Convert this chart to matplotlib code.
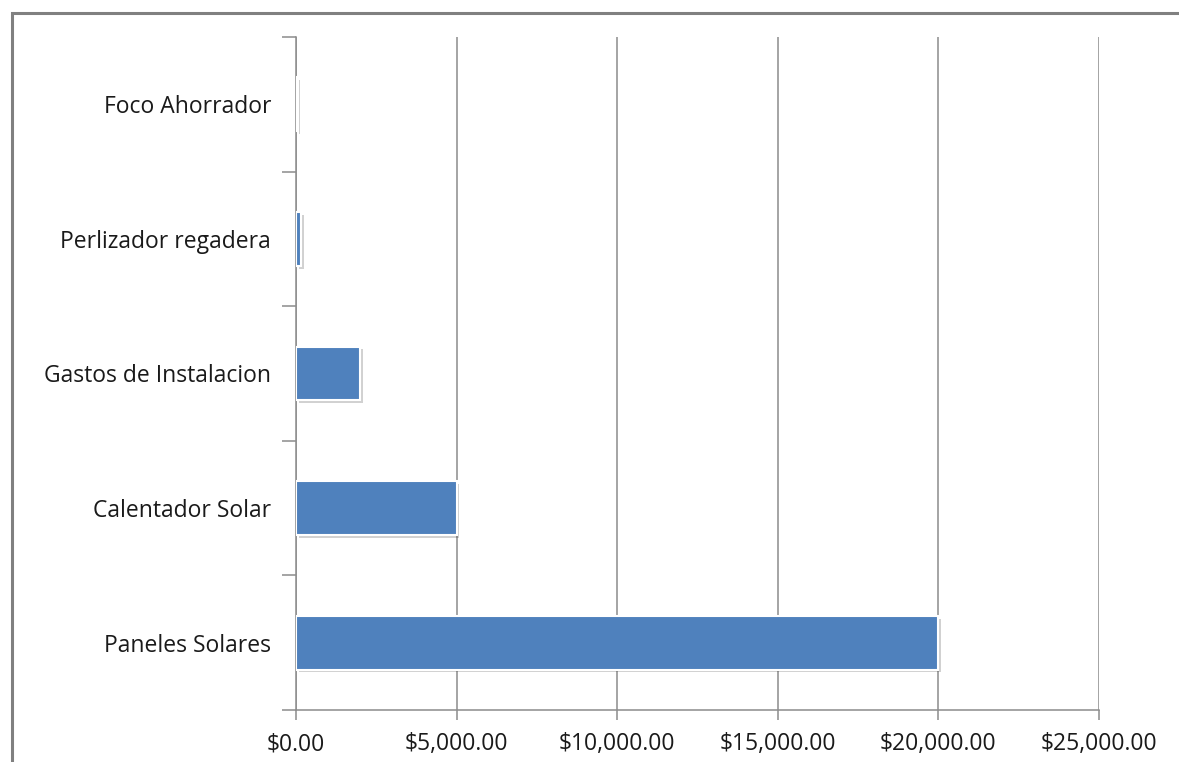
import matplotlib
matplotlib.use('Agg')
import matplotlib.pyplot as plt
import matplotlib.patheffects as pe
from matplotlib.ticker import FuncFormatter
from matplotlib.patches import Rectangle

# Costs per item (pesos)
categorias = ['Paneles Solares', 'Calentador Solar', 'Gastos de Instalacion',
              'Perlizador regadera', 'Foco Ahorrador']
costos = [20000, 5000, 2000, 150, 40]

plt.rcParams['font.family'] = ['Open Sans', 'DejaVu Sans']

fig = plt.figure(figsize=(11.79, 7.62), dpi=100)
ax = fig.add_axes([296 / 1179, 1 - 710 / 762, (1099 - 296) / 1179, (710 - 37) / 762])

# outer chart border (only top and left edges fall inside the image)
fig.patches.append(Rectangle((12 / 1179, -0.1), 1.2, 1 - 13 / 762 + 0.1,
                             transform=fig.transFigure, fill=False,
                             edgecolor='#808080', linewidth=2.2, zorder=0))

pos = range(len(categorias))
bars = ax.barh(pos, costos, height=0.4, color='#4F81BD', edgecolor='white',
               linewidth=1.5, zorder=3)
for b in bars:
    b.set_path_effects([pe.SimplePatchShadow(offset=(2, -2), shadow_rgbFace='#000000', alpha=0.18),
                        pe.Normal()])

ax.set_xlim(0, 25000)
ax.set_ylim(-0.5, len(categorias) - 0.5)
ax.set_xticks(range(0, 25001, 5000))
ax.xaxis.set_major_formatter(FuncFormatter(lambda v, p: f'${v:,.2f}'))
ax.set_yticks(list(pos))
ax.set_yticklabels(categorias)
ax.set_yticks([i - 0.5 for i in range(len(categorias) + 1)], minor=True)

ax.grid(axis='x', color='#8c8c8c', linewidth=1.1, zorder=0)
for s in ['top', 'right']:
    ax.spines[s].set_visible(False)
for s in ['left', 'bottom']:
    ax.spines[s].set_color('#8c8c8c')
    ax.spines[s].set_linewidth(1.1)

ax.tick_params(axis='y', which='major', length=0, pad=18, labelsize=16.5, labelcolor='#1a1a1a')
ax.tick_params(axis='y', which='minor', length=10, width=1.1, color='#8c8c8c')
ax.tick_params(axis='x', length=7, width=1.1, color='#8c8c8c', pad=9, labelsize=16.5, labelcolor='#1a1a1a')

fig.savefig('out.png', dpi=100)
